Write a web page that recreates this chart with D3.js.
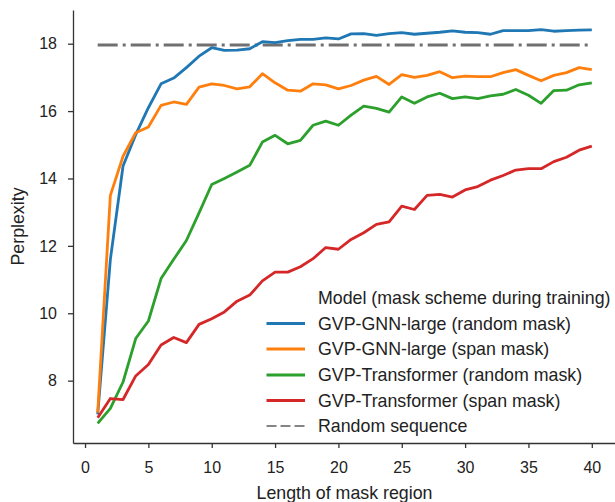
<!DOCTYPE html>
<html><head><meta charset="utf-8">
<script src="https://cdn.jsdelivr.net/npm/d3@7"></script>
<style>
body{margin:0;background:#fff;}
svg{display:block;font-family:"Liberation Sans",Arial,sans-serif;}
</style></head>
<body><svg id="c" width="615" height="502"></svg>
<script>
const lengths = d3.range(1, 41);
const gnnRandom = [7.0,11.6,14.37,15.3,16.1,16.81,16.98,17.29,17.63,17.88,17.80,17.81,17.85,18.06,18.03,18.09,18.13,18.13,18.17,18.14,18.29,18.30,18.25,18.30,18.33,18.28,18.31,18.34,18.38,18.34,18.33,18.28,18.39,18.39,18.39,18.42,18.37,18.39,18.40,18.41];
const gnnSpan = [7.05,13.5,14.66,15.36,15.53,16.17,16.27,16.2,16.71,16.81,16.76,16.66,16.72,17.11,16.84,16.62,16.59,16.81,16.78,16.66,16.76,16.92,17.03,16.79,17.08,17.0,17.06,17.17,16.99,17.04,17.02,17.02,17.14,17.23,17.06,16.9,17.06,17.14,17.29,17.23];
const tfRandom = [6.73,7.18,7.96,9.25,9.77,11.03,11.6,12.16,12.98,13.82,14.0,14.19,14.39,15.08,15.28,15.03,15.13,15.58,15.7,15.58,15.88,16.15,16.08,15.97,16.42,16.23,16.42,16.53,16.37,16.42,16.37,16.45,16.5,16.64,16.47,16.23,16.61,16.62,16.78,16.84];
const tfSpan = [6.9,7.47,7.44,8.14,8.48,9.06,9.28,9.13,9.67,9.84,10.04,10.36,10.54,10.96,11.22,11.22,11.38,11.62,11.95,11.9,12.19,12.39,12.64,12.71,13.18,13.08,13.5,13.53,13.45,13.66,13.76,13.95,14.09,14.25,14.29,14.29,14.5,14.63,14.84,14.96];
const randomSeq = 17.96;
const seriesNames = ["GVP-GNN-large (random mask)","GVP-GNN-large (span mask)","GVP-Transformer (random mask)","GVP-Transformer (span mask)"];
const seriesColors = ["#1f77b4","#ff7f0e","#2ca02c","#d62728"];
const xTicks = [0,5,10,15,20,25,30,35,40];
const yTicks = [8,10,12,14,16,18];
const legendTitle = "Model (mask scheme during training)";
const randomLabel = "Random sequence";

const svg = d3.select("#c");
const x = d3.scaleLinear().domain([-0.95, 41.95]).range([73, 616.5]);
const y = d3.scaleLinear().domain([6.15, 19.0]).range([443, 10]);
const axisColor = "#333";
const tickFs = "16px";
const fs = "17.8px";

// axes
const xa = svg.append("g").attr("transform","translate(0,443)")
  .call(d3.axisBottom(x).tickValues(xTicks).tickSize(5).tickPadding(13.5).tickSizeOuter(0));
const ya = svg.append("g").attr("transform","translate(73,0)")
  .call(d3.axisLeft(y).tickValues(yTicks).tickSize(5).tickPadding(11).tickSizeOuter(0));
[xa, ya].forEach(a => {
  a.select(".domain").attr("stroke", axisColor).attr("stroke-width", 1.3);
  a.selectAll(".tick line").attr("stroke", axisColor).attr("stroke-width", 1.3);
  a.selectAll(".tick text").attr("fill", "#222").style("font-size", tickFs).style("font-family", '"Liberation Sans",Arial,sans-serif');
});

// random sequence line
svg.append("line")
  .attr("x1", x(1)).attr("x2", x(40)).attr("y1", y(randomSeq)).attr("y2", y(randomSeq))
  .attr("stroke", "#707070").attr("stroke-width", 3.1)
  .attr("stroke-dasharray", "20,5,3,5");

const allSeries = [gnnRandom, gnnSpan, tfRandom, tfSpan];
const line = d3.line().x((d,i) => x(lengths[i])).y(d => y(d));
allSeries.forEach((s, k) => {
  svg.append("path").datum(s).attr("d", line).attr("fill","none")
    .attr("stroke", seriesColors[k]).attr("stroke-width", 2.8)
    .attr("stroke-linejoin","round").attr("stroke-linecap","butt");
});

// axis labels
svg.append("text").attr("x", 344.5).attr("y", 499).attr("text-anchor","middle")
  .style("font-size", fs).attr("fill","#222").text("Length of mask region");
svg.append("text").attr("transform","translate(24,226.5) rotate(-90)").attr("text-anchor","middle")
  .style("font-size", fs).attr("fill","#222").text("Perplexity");

// legend
const lg = svg.append("g");
lg.append("text").attr("x", 318).attr("y", 304.3).style("font-size", fs).attr("fill","#222").text(legendTitle);
const rowY = [323.5, 349, 375, 400.5];
seriesNames.forEach((n, k) => {
  lg.append("line").attr("x1", 266.5).attr("x2", 305).attr("y1", rowY[k]).attr("y2", rowY[k])
    .attr("stroke", seriesColors[k]).attr("stroke-width", 2.8);
  lg.append("text").attr("x", 318).attr("y", rowY[k] + 6.2).style("font-size", fs).attr("fill","#222").text(n);
});
lg.append("line").attr("x1", 266.5).attr("x2", 305).attr("y1", 426).attr("y2", 426)
  .attr("stroke", "#858585").attr("stroke-width", 1.8).attr("stroke-dasharray", "10,4");
lg.append("text").attr("x", 318).attr("y", 432.2).style("font-size", fs).attr("fill","#222").text(randomLabel);
</script></body></html>
